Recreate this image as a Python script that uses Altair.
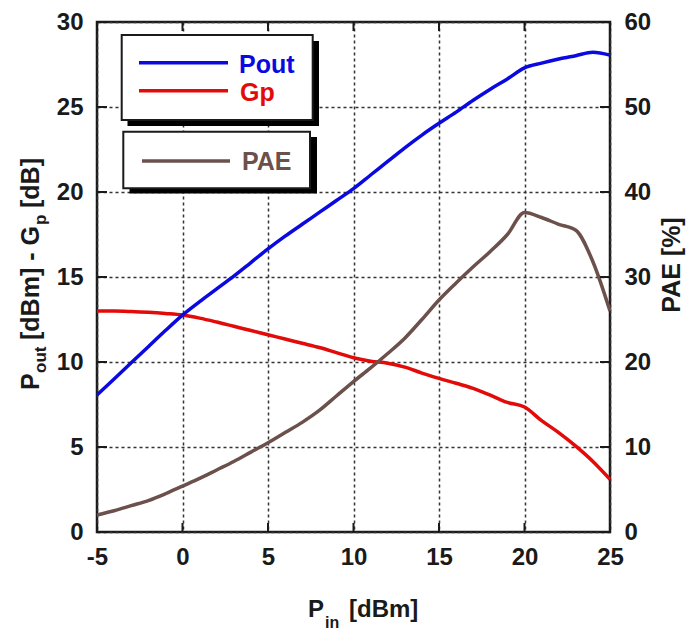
import altair as alt
import pandas as pd

# ---------------- data ----------------
pin = list(range(-5, 26))
pout = [8.06, 9.0, 9.95, 10.9, 11.85, 12.76, 13.55, 14.3, 15.05, 15.85,
        16.65, 17.4, 18.1, 18.8, 19.5, 20.2, 21.0, 21.8, 22.6, 23.35,
        24.04, 24.7, 25.4, 26.05, 26.65, 27.3, 27.58, 27.82, 28.02, 28.22, 28.05]
gp = [13.0, 13.0, 12.97, 12.92, 12.85, 12.76, 12.58, 12.35, 12.1, 11.85,
      11.6, 11.35, 11.1, 10.85, 10.55, 10.25, 10.05, 9.93, 9.7, 9.35,
      9.04, 8.75, 8.45, 8.05, 7.62, 7.35, 6.55, 5.85, 5.05, 4.15, 3.1]
pae = [2.0, 2.5, 3.1, 3.7, 4.5, 5.4, 6.3, 7.3, 8.3, 9.4,
       10.5, 11.7, 12.9, 14.3, 16.0, 17.7, 19.3, 21.0, 22.8, 25.0,
       27.3, 29.3, 31.2, 33.0, 35.0, 37.6, 37.0, 36.2, 35.5, 31.8, 26.0]

x_ticks = [-5, 0, 5, 10, 15, 20, 25]
y_ticks = [0, 5, 10, 15, 20, 25, 30]
pae_ticks = [0, 10, 20, 30, 40, 50, 60]

df = pd.DataFrame({"pin": pin, "pout": pout, "gp": gp, "pae": pae})

FONT = "Liberation Sans"
INK = "#1a1a1a"
BLUE = "#0a0ae0"
RED = "#e30a0a"
BROWN = "#6b504b"
W, H = 513, 510

xscale = alt.Scale(domain=[-5, 25], nice=False, zero=False)
yscale = alt.Scale(domain=[0, 30], nice=False, zero=False)
pscale = alt.Scale(domain=[0, 60], nice=False, zero=False)

x_axis = alt.Axis(values=x_ticks, grid=True, gridDash=[3, 3], gridColor="#333333",
                  gridWidth=1.5, ticks=False, domain=False, labelPadding=13,
                  labelFlush=False, labelExpr="'' + datum.value", title=None)


def X(field):
    return alt.X(field, type="quantitative", scale=xscale, axis=x_axis)


left_axis = alt.Axis(values=y_ticks, grid=True, gridDash=[3, 3], gridColor="#333333",
                     gridWidth=1.5, ticks=False, domain=False, labelPadding=14,
                     labelFlush=False, title=None, orient="left")
right_axis = alt.Axis(values=pae_ticks, grid=False, ticks=False, domain=False,
                      labelPadding=14, labelFlush=False, title=None, orient="right")

base = alt.Chart(df)

gp_line = base.mark_line(color=RED, strokeWidth=3.5, interpolate="monotone").encode(
    x=X("pin"), y=alt.Y("gp:Q", scale=yscale, axis=left_axis))
pout_line = base.mark_line(color=BLUE, strokeWidth=3.5, interpolate="monotone").encode(
    x=X("pin"), y=alt.Y("pout:Q", scale=yscale, axis=None))
pae_line = base.mark_line(color=BROWN, strokeWidth=3.5, interpolate="monotone").encode(
    x=X("pin"), y=alt.Y("pae:Q", scale=pscale, axis=right_axis))

# inward tick marks
xt = alt.Chart(pd.DataFrame({"v": x_ticks}))
yt = alt.Chart(pd.DataFrame({"v": y_ticks}))
tick_style = dict(color=INK, strokeWidth=2)
ticks_bottom = xt.mark_rule(**tick_style).encode(x=X("v"), y=alt.value(H), y2=alt.value(H - 9))
ticks_top = xt.mark_rule(**tick_style).encode(x=X("v"), y=alt.value(0), y2=alt.value(9))
ticks_left = yt.mark_rule(**tick_style).encode(
    y=alt.Y("v:Q", scale=yscale, axis=None), x=alt.value(0), x2=alt.value(10))
ticks_right = yt.mark_rule(**tick_style).encode(
    y=alt.Y("v:Q", scale=yscale, axis=None), x=alt.value(W), x2=alt.value(W - 10))

one = alt.Data(values=[{}])


def txt(s, x, y, size, color=INK, angle=0, align="left"):
    return alt.Chart(one).mark_text(
        text=s, font=FONT, fontSize=size, fontWeight="bold", color=color,
        angle=angle, align=align, baseline="alphabetic"
    ).encode(x=alt.value(x), y=alt.value(y))


def rect(x1, x2, y1, y2, fill, stroke=None):
    kw = dict(fill=fill)
    if stroke:
        kw.update(stroke=stroke, strokeWidth=2)
    return alt.Chart(one).mark_rect(**kw).encode(
        x=alt.value(x1), x2=alt.value(x2), y=alt.value(y1), y2=alt.value(y2))


def seg(x1, x2, y, color):
    return alt.Chart(one).mark_rule(color=color, strokeWidth=3.5).encode(
        x=alt.value(x1), x2=alt.value(x2), y=alt.value(y))


legend = [
    rect(30.5, 222, 19, 104, "#000000"),
    rect(24.7, 215.7, 13, 98, "#ffffff", INK),
    rect(32.5, 220, 115, 171.5, "#000000"),
    rect(26.3, 213, 109.7, 166.3, "#ffffff", INK),
    seg(42, 131, 40.7, BLUE),
    seg(42, 131, 68.7, RED),
    seg(45, 133, 139, BROWN),
    txt("Pout", 142, 50.5, 25, BLUE),
    txt("Gp", 143, 78.5, 25, RED),
    txt("PAE", 145, 147.5, 25, BROWN),
]

titles = [
    # x title: P_in [dBm]
    txt("P", 211, 595, 24),
    txt("in", 228, 606, 16),
    txt("[dBm]", 252, 595, 24),
    # left title: P_out [dBm] - G_p [dB]
    txt("P", -58, 368, 25, angle=270),
    txt("out", -51, 351, 17, angle=270),
    txt("[dBm] - G", -58, 318, 25, angle=270),
    txt("p", -51, 203, 17, angle=270),
    txt("[dB]", -58, 186, 25, angle=270),
    # right title
    txt("PAE [%]", 583, 243, 25, angle=270, align="center"),
]

chart = alt.layer(
    gp_line, pout_line, pae_line,
    ticks_bottom, ticks_top, ticks_left, ticks_right,
    *legend, *titles
).resolve_scale(y="independent").properties(
    width=W, height=H, autosize="none",
    padding={"left": 97, "top": 22, "right": 686 - 97 - W, "bottom": 633 - 22 - H},
    background="white",
).configure_view(stroke=INK, strokeWidth=2.5).configure_axis(
    labelFont=FONT, labelFontSize=24, labelFontWeight="bold", labelColor=INK
)

chart.save("out.html", embed_options={"renderer": "svg", "actions": False})
